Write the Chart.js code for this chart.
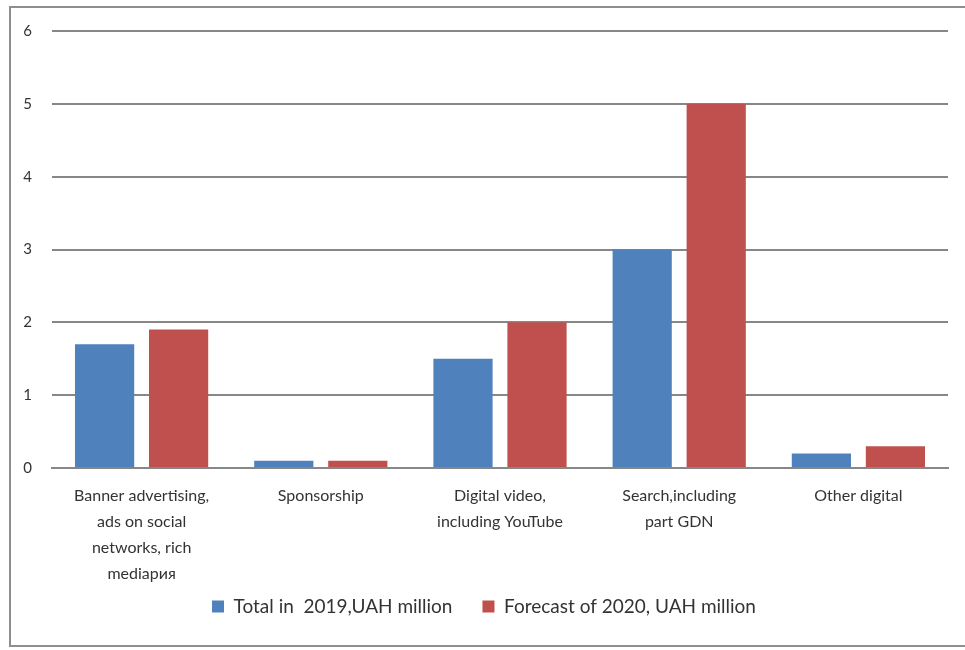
<!DOCTYPE html>
<html>
<head>
<meta charset="utf-8">
<script src="https://cdn.jsdelivr.net/npm/chart.js@4/dist/chart.umd.min.js"></script>
<style>
  html, body { margin: 0; padding: 0; background: #fff; }
  #frame {
    position: absolute; left: 9px; top: 6px; width: 970px; height: 641px;
    border: 2px solid #8e8e8e; box-sizing: border-box;
  }
  #wrap { position: absolute; left: 0; top: 0; width: 965px; height: 650px; }
</style>
</head>
<body>
<div id="frame"></div>
<div id="wrap"><canvas id="myChart"></canvas></div>
<script>
const categories = [
  ["Banner advertising,", "ads on social", "networks, rich", "mediaрия"],
  ["Sponsorship"],
  ["Digital video,", "including YouTube"],
  ["Search,including", "part GDN"],
  ["Other digital"]
];
const total2019 = [1.7, 0.1, 1.5, 3.0, 0.2];
const forecast2020 = [1.9, 0.1, 2.0, 5.0, 0.3];
const yTicks = [0, 1, 2, 3, 4, 5, 6];

const font = "Lato, 'Open Sans', sans-serif";

const data = {
  labels: categories,
  datasets: [
    {
      label: "Total in  2019,UAH million",
      backgroundColor: "#4f81bd",
      data: total2019,
    },
    {
      label: "Forecast of 2020, UAH million",
      backgroundColor: "#c0504d",
      data: forecast2020,
    },
  ],
};

const config = {
  type: "bar",
  data: data,
  options: {
    responsive: true,
    maintainAspectRatio: false,
    animation: false,
    categoryPercentage: 0.826,
    barPercentage: 0.8,
    layout: { padding: { top: 31, right: 17, bottom: 24, left: 20 } },
    plugins: {
      tooltip: { enabled: false },
      legend: {
        position: "bottom",
        labels: {
          boxWidth: 12,
          boxHeight: 12,
          padding: 30,
          color: "#333",
          font: { family: font, size: 19 },
        },
      },
    },
    scales: {
      x: {
        grid: { display: false, drawTicks: false },
        border: { display: true, color: "#878787", width: 2 },
        ticks: {
          color: "#333",
          padding: 15,
          maxRotation: 0,
          autoSkip: false,
          font: { family: font, size: 16, lineHeight: 1.62 },
        },
        afterFit: (scale) => {
          scale.height = 99;
          // let the wrapped labels run below the axis box, over the legend gap
          scale._computeLabelArea = () => undefined;
        },
      },
      y: {
        min: 0,
        max: 6,
        afterBuildTicks: (scale) => { scale.ticks = yTicks.map((v) => ({ value: v })); },
        grid: { color: "#878787", lineWidth: 2, drawTicks: false },
        border: { display: false },
        ticks: {
          color: "#333",
          padding: 20,
          font: { family: font, size: 15 },
        },
        afterFit: (scale) => { scale.width = 32; },
      },
    },
  },
};

const myChart = new Chart(document.getElementById("myChart"), config);
</script>
</body>
</html>
